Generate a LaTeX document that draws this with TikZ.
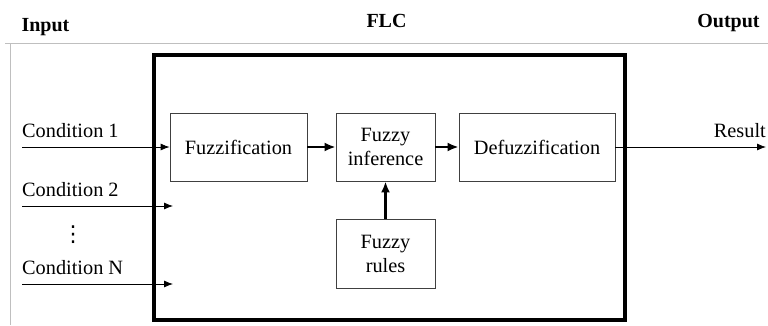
\documentclass[tikz,border=0pt]{standalone}
\usepackage{fontspec}
\setmainfont{Liberation Serif}
\newfontfamily\symfont{DejaVu Sans}
\usetikzlibrary{arrows.meta,positioning,calc}

\begin{document}
\begin{tikzpicture}[x=1pt, y=-1pt,
    txt/.style={font=\fontsize{20.3}{23}\selectfont, inner xsep=0pt, inner ysep=9.5pt},
    head/.style={font=\fontsize{20}{23}\selectfont\bfseries, anchor=base, inner sep=0pt},
    block/.style={draw=black!75, line width=0.8pt, align=center, font=\fontsize{20.3}{24}\selectfont},
    thin/.style={-{Latex[length=9pt, width=7pt]}, line width=0.8pt},
    flow/.style={-{Latex[length=11pt, width=9pt]}, line width=2.4pt}]
        \useasboundingbox (0,0) rectangle (768,325);

        % Table lines
        \draw[black!25, line width=1pt] (5,43) -- (768,43);
        \draw[black!25, line width=1pt] (10,43) -- (10,325);

        % Headers
        \node[head] (hin) at (45.5,31) {Input};
        \node[head] (hflc) at (386.5,27) {FLC};
        \node[head] (hout) at (728.5,27) {Output};

        % Controller frame
        \node[draw, line width=4pt, minimum width=471, minimum height=265] (flc) at (389.5,187.5) {};

        % Boxes
        \node[block, minimum width=137, minimum height=68] (fuzz) at (238.5,147) {Fuzzification};
        \node[block, minimum width=99, minimum height=68] (infer) at (385.5,147) {Fuzzy\\inference};
        \node[block, minimum width=156, minimum height=68] (defuzz) at (537,147) {Defuzzification};
        \node[block, minimum width=99, minimum height=69] (rules) at (385.5,253.5) {Fuzzy\\rules};

        % Inputs
        \node[txt, anchor=south west] (cond1) at (22,147) {Condition 1};
        \node[txt, anchor=south west] (cond2) at (22,206) {Condition 2};
        \node[txt, anchor=south west] (condn) at (22,284) {Condition N};
        \node[font=\symfont\fontsize{22}{22}\selectfont, inner sep=0pt] (dots) at (73,235) {⋮};
        \coordinate (in2) at (173,206);
        \coordinate (inn) at (173,284);
        \draw[thin] (cond1.south west) -- (fuzz.west);
        \draw[thin] (cond2.south west) -- (in2);
        \draw[thin] (condn.south west) -- (inn);

        % Output
        \node[txt, anchor=south east] (result) at (766,147) {Result};
        \draw[thin] (defuzz.east) -- (result.south east);

        % Inner flow
        \draw[flow] (fuzz) -- (infer);
        \draw[flow] (infer) -- (defuzz);
        \draw[flow] (rules) -- (infer);
    \end{tikzpicture}
\end{document}
